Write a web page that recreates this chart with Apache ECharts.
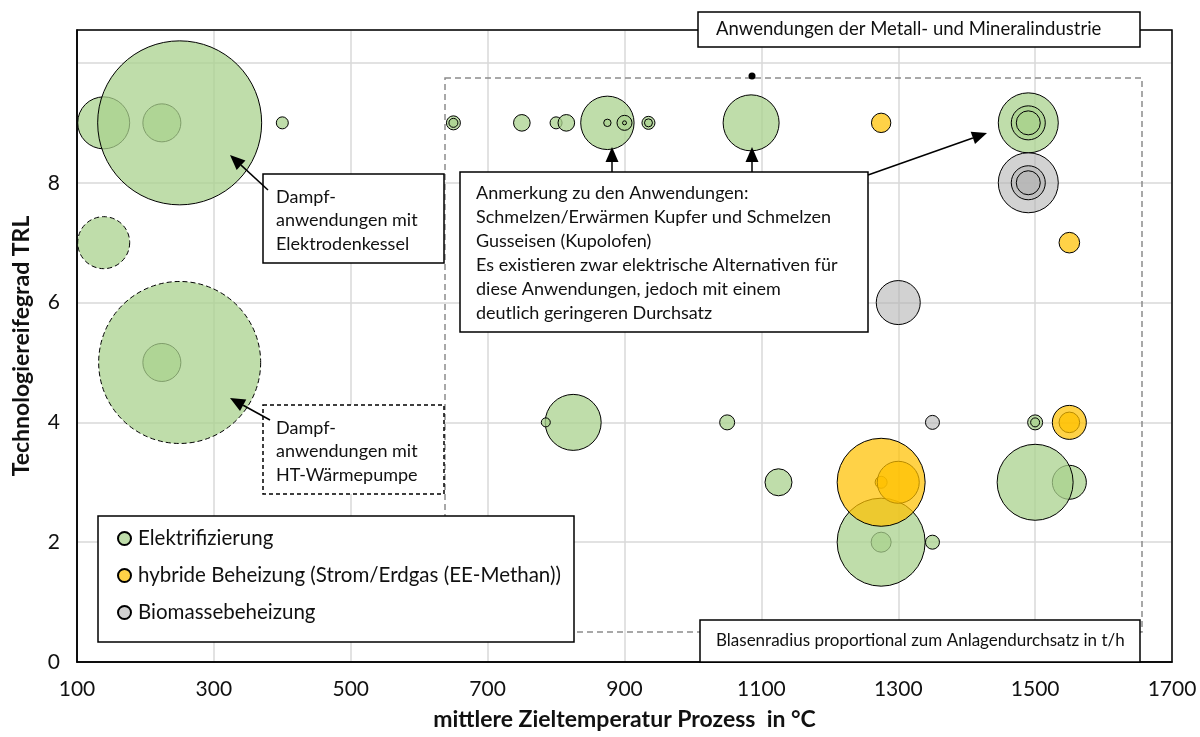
<!DOCTYPE html>
<html><head><meta charset="utf-8">
<script src="https://cdn.jsdelivr.net/npm/echarts@6/dist/echarts.min.js"></script>
<style>html,body{margin:0;padding:0;background:#fff}#c{width:1200px;height:737px}</style>
</head><body><div id="c"></div>
<script>
// ---- data ----
const seriesNames = ['Elektrifizierung', 'hybride Beheizung (Strom/Erdgas (EE-Methan))', 'Biomassebeheizung'];
const xTicks = [100, 300, 500, 700, 900, 1100, 1300, 1500, 1700];
const yTicks = [0, 2, 4, 6, 8];
// Elektrifizierung (bubble value = relative throughput / radius)
const elekTemp = [224, 139, 250, 400, 650, 650, 750, 800, 815, 875, 875, 900, 900, 935, 935, 1085, 1490, 1490, 1490, 224, 825, 785, 1050, 1500, 1500, 1125, 1550, 1500, 1275, 1275, 1350];
const elekTRL  = [9, 9, 9, 9, 9, 9, 9, 9, 9, 9, 9, 9, 9, 9, 9, 9, 9, 9, 9, 5, 4, 4, 4, 4, 4, 3, 3, 3, 2, 2, 2];
const elekDurchsatz = [19, 26, 82, 6, 7, 4.5, 8.3, 6, 8.3, 26.7, 3.7, 7.5, 2, 6.5, 4, 28, 30, 17, 12, 19, 28, 4.5, 7.5, 7.5, 4.5, 13.5, 17, 38, 10, 44, 7];
// Elektrifizierung – HT-Wärmepumpe (dashed)
const htwpTemp = [139, 250];
const htwpTRL = [7, 5];
const htwpDurchsatz = [26, 81];
// hybride Beheizung
const hybTemp = [1275, 1550, 1550, 1550, 1275, 1300, 1275];
const hybTRL = [9, 7, 4, 4, 3, 3, 3];
const hybDurchsatz = [9.7, 10.3, 10.3, 17, 6, 21, 44];
// Biomassebeheizung
const bioTemp = [1490, 1490, 1490, 1300, 1350];
const bioTRL = [8, 8, 8, 6, 4];
const bioDurchsatz = [30, 17, 12, 22, 7];

const texts = {
  xName: 'mittlere Zieltemperatur Prozess  in °C',
  yName: 'Technologiereifegrad TRL',
  boxTop: 'Anwendungen der Metall- und Mineralindustrie',
  boxKessel: 'Dampf-\nanwendungen mit\nElektrodenkessel',
  boxWP: 'Dampf-\nanwendungen mit\nHT-Wärmepumpe',
  boxNote: 'Anmerkung zu den Anwendungen:\nSchmelzen/Erwärmen Kupfer und Schmelzen\nGusseisen (Kupolofen)\nEs existieren zwar elektrische Alternativen für\ndiese Anwendungen, jedoch mit einem\ndeutlich geringeren Durchsatz',
  boxRadius: 'Blasenradius proportional zum Anlagendurchsatz in t/h'
};

// ---- chart ----
const zip = (a, b, c) => a.map((v, i) => [v, b[i], c[i]]);
const FONT = 'Lato, "Open Sans", sans-serif';
const green = 'rgba(169,209,142,0.75)';
const yellow = 'rgba(255,192,0,0.72)';
const grey = 'rgba(180,180,180,0.6)';

function bubble(name, data, color, dashed) {
  return {
    name, type: 'scatter', data,
    symbolSize: v => v[2] * 2,
    itemStyle: { color, opacity: 1, borderColor: '#000', borderWidth: 1, borderType: dashed ? [5, 3] : 'solid' },
    emphasis: { disabled: true },
    animation: false
  };
}

const chart = echarts.init(document.getElementById('c'));
const option = {
  backgroundColor: '#fff',
  animation: false,
  textStyle: { fontFamily: FONT },
  grid: { left: 77, right: 28, top: 30, bottom: 75, show: false },
  xAxis: {
    type: 'value', min: xTicks[0], max: xTicks[xTicks.length - 1], interval: 200,
    axisLine: { show: true, lineStyle: { color: '#000', width: 1.5 } },
    axisTick: { show: false },
    splitLine: { show: true, lineStyle: { color: '#d9d9d9', width: 1.5 } },
    axisLabel: { color: '#111', fontSize: 21, margin: 17, fontFamily: FONT, formatter: v => String(v) },
    name: texts.xName, nameLocation: 'middle', nameGap: 46,
    nameTextStyle: { fontWeight: 'bold', fontSize: 23, color: '#111', fontFamily: FONT }
  },
  yAxis: {
    type: 'value', min: 0, max: 10.55, interval: 2,
    axisLine: { show: true, lineStyle: { color: '#000', width: 1.5 } },
    axisTick: { show: false },
    splitLine: { show: true, lineStyle: { color: '#d9d9d9', width: 1.5 } },
    axisLabel: { color: '#111', fontSize: 21, margin: 17, fontFamily: FONT,
      formatter: v => (yTicks.indexOf(v) >= 0 ? String(v) : '') },
    name: texts.yName, nameLocation: 'middle', nameGap: 44, nameRotate: 90,
    nameTextStyle: { fontWeight: 'bold', fontSize: 23, color: '#111', fontFamily: FONT }
  },
  legend: {
    data: seriesNames, orient: 'vertical', left: 112, top: 523, itemGap: 16,
    itemWidth: 13, itemHeight: 13, icon: 'circle', z: 20,
    textStyle: { fontSize: 20.5, color: '#111', fontFamily: FONT, padding: [0, 0, 0, 2] },
    selectedMode: false
  },
  series: [
    bubble(seriesNames[0], zip(elekTemp, elekTRL, elekDurchsatz), green, false),
    bubble(seriesNames[0], zip(htwpTemp, htwpTRL, htwpDurchsatz), green, true),
    bubble(seriesNames[1], zip(hybTemp, hybTRL, hybDurchsatz), yellow, false),
    bubble(seriesNames[2], zip(bioTemp, bioTRL, bioDurchsatz), grey, false)
  ]
};
chart.setOption(option);

// ---- annotations ----
function box(x, y, w, h, dashed, z) {
  return { type: 'rect', z: z || 10, shape: { x, y, width: w, height: h },
    style: { fill: '#fff', stroke: '#000', lineWidth: 1.5, lineDash: dashed ? [4, 3] : null } };
}
function txt(x, y, text, size, lh, z) {
  return { type: 'text', z: (z || 10) + 1, style: { x, y, text, font: size + 'px ' + FONT, fill: '#111', lineHeight: lh, textVerticalAlign: 'top' } };
}
function arrow(x1, y1, x2, y2) {
  const a = Math.atan2(y2 - y1, x2 - x1), L = 15, W = 6.5;
  const c = Math.cos(a), s = Math.sin(a);
  const bx = x2 - L * c, by = y2 - L * s;
  return [
    { type: 'line', z: 12, shape: { x1, y1, x2: bx, y2: by }, style: { stroke: '#000', lineWidth: 1.5 } },
    { type: 'polygon', z: 12, shape: { points: [[x2, y2], [bx - W * s, by + W * c], [bx + W * s, by - W * c]] }, style: { fill: '#000' } }
  ];
}
const g = [];
// plot frame
g.push({ type: 'rect', z: 4, shape: { x: 77, y: 30, width: 1095, height: 632 }, style: { fill: 'none', stroke: '#000', lineWidth: 1.5 } });
// dashed region of metal / mineral industry
g.push({ type: 'rect', z: 5, shape: { x: 445, y: 78, width: 697, height: 554 }, style: { fill: 'none', stroke: '#8c8c8c', lineWidth: 1.5, lineDash: [6, 4] } });
g.push({ type: 'circle', z: 12, shape: { cx: 752, cy: 76, r: 3.5 }, style: { fill: '#000' } });
// boxes
g.push(box(698, 12, 442, 35)); g.push(txt(716, 19, texts.boxTop, 18.5, 21));
g.push(box(263, 174, 181, 89)); g.push(txt(276, 185, texts.boxKessel, 18, 23.5));
g.push(box(263, 405, 181, 89, true)); g.push(txt(276, 416, texts.boxWP, 18, 23.5));
g.push(box(460, 172, 408, 160)); g.push(txt(476, 181, texts.boxNote, 18, 24));
g.push(box(700, 620, 440, 42)); g.push(txt(716, 631, texts.boxRadius, 17, 20));
g.push(box(98, 516, 476, 126, false, 15));
// arrows
[[268, 190, 230, 155], [270, 420, 230, 398], [612, 172, 612, 147], [752, 172, 752, 147], [868, 175, 987, 133]]
  .forEach(p => arrow(...p).forEach(e => g.push(e)));
chart.setOption({ graphic: { elements: g } });
</script>
</body></html>
